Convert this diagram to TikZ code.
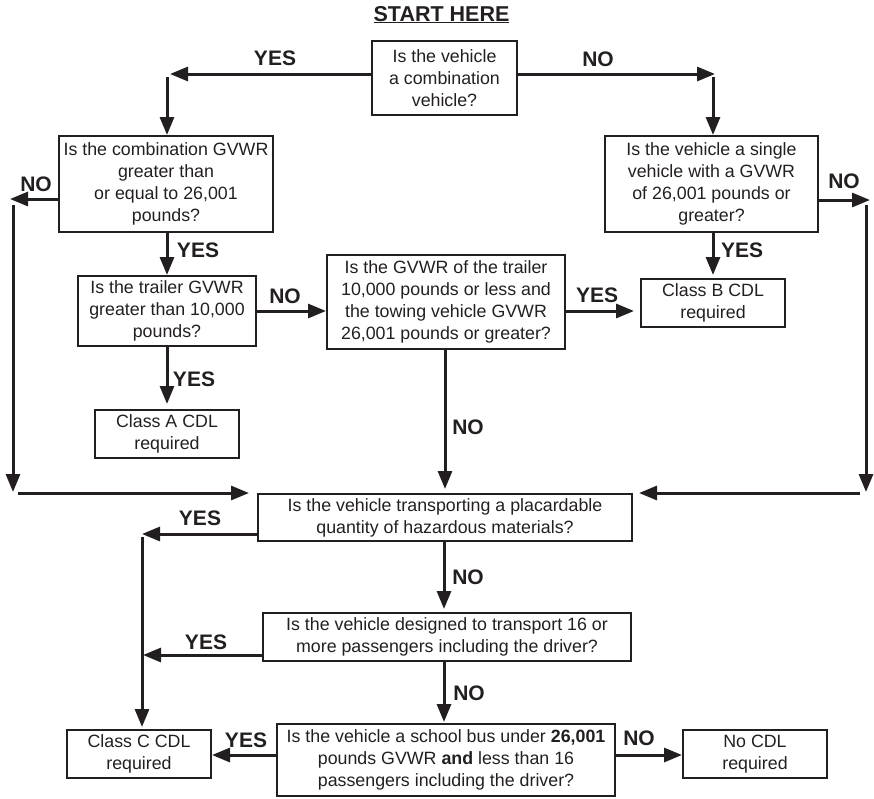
\documentclass[tikz,border=0pt]{standalone}
\usepackage{fontspec}
\setmainfont{Liberation Sans}
\usetikzlibrary{arrows.meta}
\definecolor{ink}{HTML}{231F20}
\begin{document}
\begin{tikzpicture}[x=1pt,y=-1pt,
  box/.style={draw=ink, line width=2pt, inner sep=0pt, align=center, text=ink,
    font=\fontsize{17.8}{22}\selectfont},
  lbl/.style={text=ink, inner sep=0pt, font=\fontsize{21}{24}\selectfont\bfseries},
  arr/.style={draw=ink, line width=3pt, -{Triangle[length=18pt,width=14pt]}}]
\useasboundingbox (0,0) rectangle (874,798);

% title
\node[text=ink, inner sep=0pt, anchor=base, font=\fontsize{21.5}{24}\selectfont\bfseries] (title) at (441.5,21) {\underline{START HERE}};

% boxes
\node[box, minimum width=145pt, minimum height=74pt] (b1) at (444.5,78) {Is the vehicle\\a combination\\vehicle?};
\node[box, minimum width=214pt, minimum height=96pt] (b2) at (166,184) {Is the combination GVWR\\greater than\\or equal to 26,001\\pounds?};
\node[box, minimum width=213pt, minimum height=96pt] (b3) at (711.5,184) {Is the vehicle a single\\vehicle with a GVWR\\of 26,001 pounds or\\greater?};
\node[box, minimum width=178pt, minimum height=70pt] (b4) at (167,311) {Is the trailer GVWR\\greater than 10,000\\pounds?};
\node[box, minimum width=238pt, minimum height=94pt] (b5) at (446,302) {Is the GVWR of the trailer\\10,000 pounds or less and\\the towing vehicle GVWR\\26,001 pounds or greater?};
\node[box, minimum width=144pt, minimum height=48pt] (b6) at (713,303) {Class B CDL\\required};
\node[box, minimum width=144pt, minimum height=48pt] (b7) at (167,434) {Class A CDL\\required};
\node[box, minimum width=374pt, minimum height=47pt] (b8) at (445,517.5) {Is the vehicle transporting a placardable\\quantity of hazardous materials?};
\node[box, minimum width=368pt, minimum height=48pt] (b9) at (447,637) {Is the vehicle designed to transport 16 or\\more passengers including the driver?};
\node[box, minimum width=144pt, minimum height=48pt] (b10) at (139,754) {Class C CDL\\required};
\node[box, minimum width=338pt, minimum height=72pt] (b11) at (446,760) {Is the vehicle a school bus under \textbf{26,001}\\pounds GVWR \textbf{and} less than 16\\passengers including the driver?};
\node[box, minimum width=144pt, minimum height=48pt] (b12) at (755,754) {No CDL\\required};

% helper coordinates
\coordinate (t1) at (170,74);  \coordinate (s1) at (167,77);
\coordinate (t2) at (715,74);  \coordinate (s2) at (713,77);
\coordinate (t3) at (10,199);  \coordinate (s3) at (13,205);  \coordinate (t4) at (13,492);
\coordinate (s5) at (18,493);
\coordinate (t6) at (870,200); \coordinate (s6) at (866,205); \coordinate (t7) at (866,492);
\coordinate (s8) at (860,493);
\coordinate (t9) at (142,534); \coordinate (s9) at (142,537);
\coordinate (t10) at (143,655);
\coordinate (t11) at (212,755);
\coordinate (mx) at (444,600);

% connectors
\draw[arr] (b1.west |- t1) -- (t1);
\draw[arr] (s1) -- (s1 |- b2.north);
\draw[arr] (b1.east |- t2) -- (t2);
\draw[arr] (s2) -- (s2 |- b3.north);

\draw[arr] (b2.west |- t3) -- (t3);
\draw[arr] (s3) -- (t4);
\draw[arr] (s5) -- ([xshift=-8pt]b8.west |- s5);

\draw[arr] (b3.east |- t6) -- (t6);
\draw[arr] (s6) -- (t7);
\draw[arr] (s8) -- ([xshift=6pt]b8.east |- s8);

\draw[arr] (b4.north |- b2.south) -- (b4.north);
\draw[arr] (b4.east) -- (b5.west |- b4.east);
\draw[arr] (b5.east |- b4.east) -- ([xshift=-6pt]b6.west |- b4.east);
\draw[arr] (b6.north |- b3.south) -- ([yshift=3pt]b6.north);
\draw[arr] (b4.south) -- ([yshift=5pt]b7.north);
\draw[arr] (b5.south -| b8.north) -- ([yshift=4pt]b8.north);

\draw[arr] (b8.west |- t9) -- (t9);
\draw[arr] (s9) -- ([yshift=2pt]s9 |- b10.north);
\draw[arr] (mx |- b8.south) -- ([yshift=3pt]mx |- b9.north);
\draw[arr] (b9.west |- t10) -- (t10);
\draw[arr] (mx |- b9.south) -- ([yshift=1pt]mx |- b11.north);
\draw[arr] (b11.west |- t11) -- (b10.east |- t11);
\draw[arr] (b11.east |- t11) -- (b12.west |- t11);

% labels
\node[lbl] (l1) at (275,58) {YES};
\node[lbl] (l2) at (598,59) {NO};
\node[lbl] (l3) at (36,184) {NO};
\node[lbl] (l4) at (844,181) {NO};
\node[lbl] (l5) at (198,250) {YES};
\node[lbl] (l6) at (285,296) {NO};
\node[lbl] (l7) at (597,295) {YES};
\node[lbl] (l8) at (742,250) {YES};
\node[lbl] (l9) at (194,379) {YES};
\node[lbl] (l10) at (468,427) {NO};
\node[lbl] (l11) at (200,518) {YES};
\node[lbl] (l12) at (468,577) {NO};
\node[lbl] (l13) at (206,642) {YES};
\node[lbl] (l14) at (469,693) {NO};
\node[lbl] (l15) at (246,740) {YES};
\node[lbl] (l16) at (639,738) {NO};
\end{tikzpicture}
\end{document}
